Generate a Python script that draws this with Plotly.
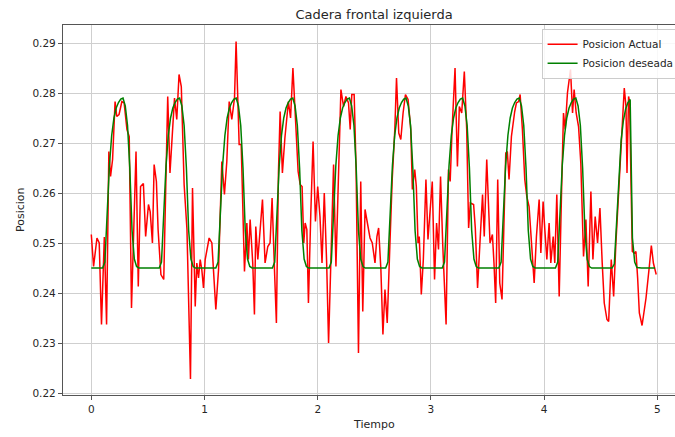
import plotly.graph_objects as go

# ---- measured hip position (left front hip), irregular sample times ----
t_actual = [
    0.000, 0.020, 0.050, 0.070, 0.090, 0.115, 0.135, 0.155, 0.170, 0.188,
    0.210, 0.225, 0.245, 0.270, 0.290, 0.315, 0.335, 0.355, 0.395, 0.415,
    0.435, 0.460, 0.480, 0.505, 0.520, 0.540, 0.555, 0.575, 0.590, 0.615,
    0.640, 0.655, 0.675, 0.695, 0.715, 0.735, 0.755, 0.775, 0.795, 0.820,
    0.845, 0.876, 0.894, 0.918, 0.932, 0.947, 0.962, 0.976, 0.991, 1.006,
    1.041, 1.065, 1.100, 1.124, 1.153, 1.176, 1.197, 1.218, 1.241, 1.265,
    1.279, 1.291, 1.306, 1.324, 1.353, 1.374, 1.388, 1.403, 1.426, 1.441,
    1.453, 1.471, 1.491, 1.512, 1.535, 1.559, 1.579, 1.597, 1.618, 1.635,
    1.653, 1.668, 1.688, 1.710, 1.741, 1.760, 1.781, 1.795, 1.813, 1.827,
    1.845, 1.862, 1.877, 1.889, 1.904, 1.918, 1.939, 1.959, 1.980, 2.000,
    2.020, 2.038, 2.058, 2.079, 2.096, 2.120, 2.140, 2.161, 2.184, 2.205,
    2.228, 2.249, 2.272, 2.287, 2.301, 2.322, 2.339, 2.360, 2.380, 2.398,
    2.418, 2.442, 2.462, 2.482, 2.506, 2.523, 2.538, 2.558, 2.576, 2.594,
    2.614, 2.637, 2.658, 2.681, 2.696, 2.716, 2.734, 2.754, 2.775, 2.798,
    2.822, 2.836, 2.857, 2.871, 2.886, 2.897, 2.915, 2.933, 2.956, 2.974,
    2.994, 3.012, 3.032, 3.050, 3.067, 3.085, 3.105, 3.134, 3.155, 3.170,
    3.187, 3.213, 3.234, 3.251, 3.272, 3.295, 3.316, 3.333, 3.348, 3.377,
    3.392, 3.412, 3.433, 3.456, 3.471, 3.493, 3.522, 3.543, 3.557, 3.572,
    3.590, 3.608, 3.628, 3.643, 3.661, 3.675, 3.690, 3.711, 3.726, 3.740,
    3.755, 3.775, 3.788, 3.808, 3.829, 3.847, 3.867, 3.888, 3.912, 3.932,
    3.956, 3.971, 3.991, 4.006, 4.024, 4.044, 4.059, 4.080, 4.094, 4.112,
    4.133, 4.153, 4.171, 4.186, 4.206, 4.233, 4.251, 4.265, 4.283, 4.304,
    4.324, 4.348, 4.369, 4.389, 4.413, 4.431, 4.451, 4.472, 4.493, 4.513,
    4.531, 4.555, 4.570, 4.593, 4.614, 4.634, 4.655, 4.673, 4.690, 4.708,
    4.723, 4.732, 4.746, 4.755, 4.767, 4.779, 4.796, 4.811, 4.826, 4.841,
    4.865, 4.900, 4.930, 4.947, 4.965, 4.990,
]
pos_actual = [
    0.2517, 0.2453, 0.2510, 0.2500, 0.2337, 0.2512, 0.2337, 0.2683, 0.2633, 0.2667,
    0.2783, 0.2753, 0.2757, 0.2783, 0.2780, 0.2727, 0.2713, 0.2370, 0.2683, 0.2413,
    0.2613, 0.2619, 0.2513, 0.2577, 0.2563, 0.2500, 0.2657, 0.2623, 0.2527, 0.2437,
    0.2427, 0.2590, 0.2793, 0.2640, 0.2720, 0.2790, 0.2747, 0.2837, 0.2813, 0.2617,
    0.2527, 0.2228, 0.2610, 0.2373, 0.2460, 0.2430, 0.2467, 0.2447, 0.2410, 0.2467,
    0.2510, 0.2500, 0.2367, 0.2447, 0.2663, 0.2597, 0.2663, 0.2783, 0.2747, 0.2790,
    0.2903, 0.2790, 0.2697, 0.2697, 0.2443, 0.2540, 0.2467, 0.2547, 0.2460, 0.2357,
    0.2533, 0.2467, 0.2520, 0.2587, 0.2460, 0.2493, 0.2500, 0.2590, 0.2447, 0.2340,
    0.2640, 0.2763, 0.2640, 0.2710, 0.2783, 0.2750, 0.2850, 0.2793, 0.2707, 0.2643,
    0.2617, 0.2613, 0.2500, 0.2540, 0.2527, 0.2380, 0.2560, 0.2703, 0.2543, 0.2613,
    0.2553, 0.2460, 0.2600, 0.2460, 0.2300, 0.2497, 0.2657, 0.2453, 0.2640, 0.2807,
    0.2773, 0.2793, 0.2780, 0.2727, 0.2797, 0.2797, 0.2647, 0.2280, 0.2623, 0.2363,
    0.2567, 0.2540, 0.2510, 0.2500, 0.2460, 0.2513, 0.2530, 0.2447, 0.2317, 0.2407,
    0.2340, 0.2493, 0.2627, 0.2727, 0.2830, 0.2720, 0.2707, 0.2760, 0.2797, 0.2787,
    0.2727, 0.2607, 0.2647, 0.2613, 0.2500, 0.2513, 0.2397, 0.2467, 0.2627, 0.2507,
    0.2573, 0.2623, 0.2427, 0.2540, 0.2487, 0.2633, 0.2493, 0.2337, 0.2647, 0.2623,
    0.2727, 0.2850, 0.2653, 0.2773, 0.2760, 0.2843, 0.2727, 0.2530, 0.2580, 0.2577,
    0.2530, 0.2410, 0.2500, 0.2597, 0.2513, 0.2667, 0.2500, 0.2517, 0.2460, 0.2380,
    0.2627, 0.2420, 0.2387, 0.2553, 0.2680, 0.2683, 0.2627, 0.2713, 0.2740, 0.2763,
    0.2780, 0.2783, 0.2797, 0.2727, 0.2627, 0.2593, 0.2573, 0.2493, 0.2420, 0.2513,
    0.2587, 0.2480, 0.2583, 0.2527, 0.2467, 0.2540, 0.2460, 0.2513, 0.2460, 0.2597,
    0.2393, 0.2593, 0.2760, 0.2727, 0.2800, 0.2847, 0.2760, 0.2807, 0.2760, 0.2733,
    0.2660, 0.2473, 0.2547, 0.2413, 0.2603, 0.2467, 0.2553, 0.2500, 0.2570, 0.2460,
    0.2380, 0.2347, 0.2343, 0.2467, 0.2393, 0.2500, 0.2593, 0.2667, 0.2727, 0.2810,
    0.2773, 0.2640, 0.2793, 0.2783, 0.2627, 0.2483, 0.2480, 0.2483, 0.2430, 0.2360,
    0.2335, 0.2390, 0.2455, 0.2495, 0.2460, 0.2437,
]

# ---- desired hip position, sampled every 0.02 s (one row per 0.5 s step) ----
t_desired = [round(i * 0.02, 2) for i in range(250)]
pos_desired = [
    0.2450, 0.2450, 0.2450, 0.2450, 0.2450, 0.2450, 0.2462, 0.2555, 0.2655, 0.2715, 0.2750, 0.2770, 0.2781, 0.2788, 0.2790, 0.2774, 0.2735, 0.2650, 0.2525, 0.2468, 0.2453, 0.2450, 0.2450, 0.2450, 0.2450,
    0.2450, 0.2450, 0.2450, 0.2450, 0.2450, 0.2450, 0.2462, 0.2555, 0.2655, 0.2715, 0.2750, 0.2770, 0.2781, 0.2788, 0.2790, 0.2774, 0.2735, 0.2650, 0.2525, 0.2468, 0.2453, 0.2450, 0.2450, 0.2450, 0.2450,
    0.2450, 0.2450, 0.2450, 0.2450, 0.2450, 0.2450, 0.2462, 0.2555, 0.2655, 0.2715, 0.2750, 0.2770, 0.2781, 0.2788, 0.2790, 0.2774, 0.2735, 0.2650, 0.2525, 0.2468, 0.2453, 0.2450, 0.2450, 0.2450, 0.2450,
    0.2450, 0.2450, 0.2450, 0.2450, 0.2450, 0.2450, 0.2462, 0.2555, 0.2655, 0.2715, 0.2750, 0.2770, 0.2781, 0.2788, 0.2790, 0.2774, 0.2735, 0.2650, 0.2525, 0.2468, 0.2453, 0.2450, 0.2450, 0.2450, 0.2450,
    0.2450, 0.2450, 0.2450, 0.2450, 0.2450, 0.2450, 0.2462, 0.2555, 0.2655, 0.2715, 0.2750, 0.2770, 0.2781, 0.2788, 0.2790, 0.2774, 0.2735, 0.2650, 0.2525, 0.2468, 0.2453, 0.2450, 0.2450, 0.2450, 0.2450,
    0.2450, 0.2450, 0.2450, 0.2450, 0.2450, 0.2450, 0.2462, 0.2555, 0.2655, 0.2715, 0.2750, 0.2770, 0.2781, 0.2788, 0.2790, 0.2774, 0.2735, 0.2650, 0.2525, 0.2468, 0.2453, 0.2450, 0.2450, 0.2450, 0.2450,
    0.2450, 0.2450, 0.2450, 0.2450, 0.2450, 0.2450, 0.2462, 0.2555, 0.2655, 0.2715, 0.2750, 0.2770, 0.2781, 0.2788, 0.2790, 0.2774, 0.2735, 0.2650, 0.2525, 0.2468, 0.2453, 0.2450, 0.2450, 0.2450, 0.2450,
    0.2450, 0.2450, 0.2450, 0.2450, 0.2450, 0.2450, 0.2462, 0.2555, 0.2655, 0.2715, 0.2750, 0.2770, 0.2781, 0.2788, 0.2790, 0.2774, 0.2735, 0.2650, 0.2525, 0.2468, 0.2453, 0.2450, 0.2450, 0.2450, 0.2450,
    0.2450, 0.2450, 0.2450, 0.2450, 0.2450, 0.2450, 0.2462, 0.2555, 0.2655, 0.2715, 0.2750, 0.2770, 0.2781, 0.2788, 0.2790, 0.2774, 0.2735, 0.2650, 0.2525, 0.2468, 0.2453, 0.2450, 0.2450, 0.2450, 0.2450,
    0.2450, 0.2450, 0.2450, 0.2450, 0.2450, 0.2450, 0.2458, 0.2535, 0.2635, 0.2705, 0.2745, 0.2768, 0.2781, 0.2787, 0.2510, 0.2462, 0.2451, 0.2450, 0.2450, 0.2450, 0.2450, 0.2450, 0.2450, 0.2450, 0.2450,
]

x_ticks = [0, 1, 2, 3, 4, 5]
y_ticks = [0.22, 0.23, 0.24, 0.25, 0.26, 0.27, 0.28, 0.29]

FONT = "DejaVu Sans"
TEXT = "#262626"

fig = go.Figure()
fig.add_trace(go.Scatter(
    x=t_actual, y=pos_actual, mode="lines", name="Posicion Actual",
    line=dict(color="#ff0000", width=1.5),
))
fig.add_trace(go.Scatter(
    x=t_desired, y=pos_desired, mode="lines", name="Posicion deseada",
    line=dict(color="#008000", width=1.5),
))

axis_common = dict(
    showgrid=True, gridcolor="#cfcfcf", gridwidth=1,
    showline=True, linecolor="#555555", linewidth=1.2, mirror=True,
    ticks="outside", ticklen=4, tickcolor="#555555",
    tickfont=dict(family=FONT, size=10.5, color=TEXT),
    zeroline=False, automargin=False,
)

fig.update_layout(
    width=675, height=437,
    margin=dict(l=63, r=0, t=25, b=42, autoexpand=False),
    paper_bgcolor="white", plot_bgcolor="white",
    font=dict(family=FONT, color=TEXT),
    showlegend=True,
    legend=dict(
        x=0.782, y=0.99, xanchor="left", yanchor="top",
        bgcolor="rgba(255,255,255,0.85)", bordercolor="#cccccc", borderwidth=1,
        font=dict(family=FONT, size=10.5, color=TEXT),
        itemwidth=30, tracegroupgap=0,
    ),
    title=dict(
        text="Cadera frontal izquierda", x=374 / 675, xanchor="center",
        y=1 - 14 / 437, yanchor="middle",
        font=dict(family=FONT, size=13, color=TEXT),
    ),
    xaxis=dict(
        range=[-0.25, 5.156], tickvals=x_ticks,
        ticktext=[str(v) for v in x_ticks], **axis_common,
    ),
    yaxis=dict(
        range=[0.2196, 0.2936], tickvals=y_ticks,
        ticktext=[f"{v:.2f}" for v in y_ticks], **axis_common,
    ),
    annotations=[
        dict(text="Tiempo", xref="paper", yref="paper", x=(374 - 63) / 612,
             y=-(424 - 395) / 370, xanchor="center", yanchor="middle",
             showarrow=False, font=dict(family=FONT, size=11, color=TEXT)),
        dict(text="Posicion", xref="paper", yref="paper", x=-(63 - 20) / 612,
             y=0.5, xanchor="center", yanchor="middle", textangle=-90,
             showarrow=False, font=dict(family=FONT, size=11, color=TEXT)),
    ],
)

fig.write_html("out.html")
